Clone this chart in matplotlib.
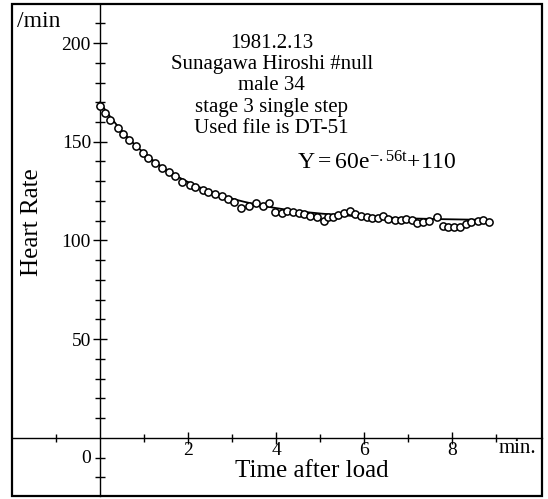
import matplotlib
matplotlib.use("Agg")
import matplotlib.pyplot as plt
import numpy as np
from matplotlib.patches import Rectangle
from matplotlib.ticker import FixedLocator

plt.rcParams['font.family'] = ['Liberation Serif', 'DejaVu Serif']
plt.rcParams['mathtext.fontset'] = 'custom'
plt.rcParams['mathtext.rm'] = 'Liberation Serif'
plt.rcParams['mathtext.it'] = 'Liberation Serif'

# measured heart rate (beats/min) vs time after load (min)
time_min = [0.00, 0.11, 0.23, 0.40, 0.53, 0.67, 0.81, 0.97, 1.10, 1.25,
            1.42, 1.57, 1.70, 1.87, 2.05, 2.16, 2.33, 2.46, 2.61, 2.77,
            2.92, 3.05, 3.20, 3.39, 3.55, 3.70, 3.85, 3.98, 4.13, 4.26,
            4.39, 4.52, 4.64, 4.77, 4.93, 5.08, 5.19, 5.30, 5.42, 5.55,
            5.68, 5.80, 5.93, 6.06, 6.19, 6.31, 6.43, 6.55, 6.70, 6.83,
            6.95, 7.08, 7.21, 7.35, 7.48, 7.67, 7.79, 7.92, 8.05, 8.18,
            8.32, 8.43, 8.58, 8.71, 8.85]
heart_rate = [168.1, 164.4, 161.0, 157.1, 153.8, 150.9, 147.8, 144.1, 141.6, 139.1,
              136.8, 134.8, 132.6, 129.4, 128.2, 127.0, 125.5, 124.4, 123.5, 122.5,
              120.8, 119.3, 116.6, 117.6, 118.8, 117.6, 118.8, 114.5, 113.7, 114.7,
              114.5, 113.7, 113.2, 112.5, 112.0, 109.8, 111.7, 112.0, 112.9, 113.7,
              115.1, 113.2, 112.4, 111.7, 111.2, 111.2, 112.5, 110.8, 110.3, 110.3,
              110.8, 110.3, 108.7, 109.5, 110.0, 112.0, 107.3, 106.6, 106.6, 106.9,
              108.2, 109.5, 110.0, 110.3, 109.2]

# fitted model  Y = A * exp(-k t) + C
fit_A = 60
fit_k = 0.56
fit_C = 110
fit_t_end = 8.7

annotation_lines = ["1981.2.13", "Sunagawa Hiroshi #null", "male 34",
                    "stage 3 single step", "Used file is DT-51"]
y_major = [50, 100, 150, 200]
x_major = [2, 4, 6, 8]

fig = plt.figure(figsize=(5.48, 4.99), dpi=100)
ax = fig.add_axes([12/548, 3/499, 530/548, 492/499])
ax.set_xlim(-2.0, 10.045)
ax.set_ylim(-29.5, 219.8)

# axes through origin
for s in ['top', 'right']:
    ax.spines[s].set_visible(False)
ax.spines['left'].set_position(('data', 0))
ax.spines['bottom'].set_position(('data', 0))
ax.spines['left'].set_linewidth(1.0)
ax.spines['bottom'].set_linewidth(1.0)

# outer frame
ax.add_patch(Rectangle((0, 0), 1, 1, transform=ax.transAxes, fill=False,
                       lw=1.6, edgecolor='black', clip_on=False, zorder=5))

ax.yaxis.set_major_locator(FixedLocator(y_major))
ax.yaxis.set_minor_locator(FixedLocator([v for v in range(-20, 220, 10) if v not in y_major and v != 0]))
ax.set_yticklabels([str(v) for v in y_major])
ax.xaxis.set_major_locator(FixedLocator(x_major))
ax.xaxis.set_minor_locator(FixedLocator([-1, 1, 3, 5, 7, 9]))
ax.set_xticklabels([str(v) for v in x_major])

ax.tick_params(axis='y', which='major', direction='inout', length=10, width=1.0,
               labelsize=14, pad=1.5)
ax.tick_params(axis='y', which='minor', direction='inout', length=7, width=1.0)
ax.tick_params(axis='x', which='major', direction='inout', length=8, width=1.0,
               labelsize=14, pad=-1)
ax.tick_params(axis='x', which='minor', direction='inout', length=6, width=1.0)

# fitted curve
t_fit = np.linspace(0, fit_t_end, 200)
ax.plot(t_fit, fit_A * np.exp(-fit_k * t_fit) + fit_C, color='black', lw=1.3, zorder=3)

# data points
ax.plot(time_min, heart_rate, linestyle='none', marker='o', markersize=5.2,
        markerfacecolor='white', markeredgecolor='black', markeredgewidth=1.1, zorder=4)

# labels
ax.text(-1.89, 208.2, "/min", fontsize=17, ha='left', va='baseline')
ax.text(-0.32, -10.3, "0", fontsize=14, ha='center', va='center')
ax.text(9.48, -5.5, "min.", fontsize=15, ha='center', va='center')
ax.text(4.82, -16.9, "Time after load", fontsize=18, ha='center', va='center')
ax.text(-1.55, 109.3, "Heart Rate", fontsize=18, ha='center', va='center', rotation=90)

line_y = [200.0, 189.0, 178.5, 167.5, 156.5]
for txt, yv in zip(annotation_lines, line_y):
    ax.text(3.9, yv, txt, fontsize=15, ha='center', va='center')

ax.text(4.48, 139.2, r"Y$=$60e$^{-.56t}$$+$110", fontsize=17, ha='left', va='center')

fig.savefig("out.png", dpi=100)
